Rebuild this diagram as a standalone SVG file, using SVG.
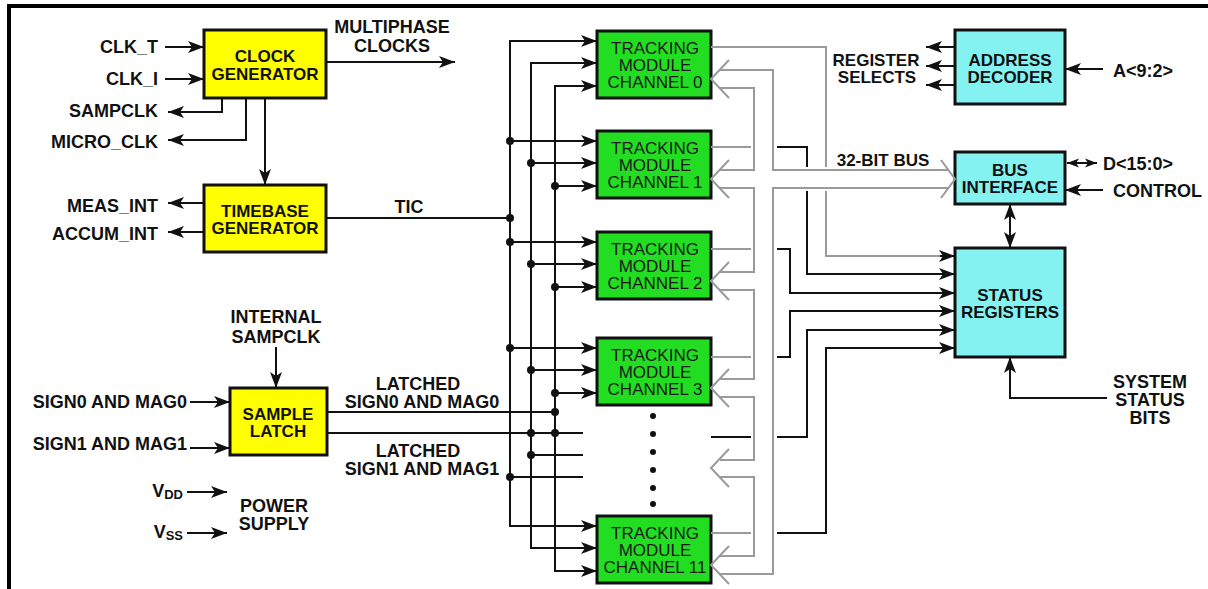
<svg xmlns="http://www.w3.org/2000/svg" width="1208" height="589" viewBox="0 0 1208 589">
<style>
text{font-family:"Liberation Sans",Arial,sans-serif;font-weight:bold;font-size:17px;fill:#111}
#labels text{font-size:18px}
.m{text-anchor:middle}
.e{text-anchor:end}
.trk text{font-weight:normal;fill:#1a1a1a}
.bx{stroke:#111;stroke-width:3}
.yel{fill:#ffff00}
.grn{fill:#22dd22}
.cyn{fill:#85f2f2}
.blk{fill:none;stroke:#111;stroke-width:2}
.gry{fill:none;stroke:#9a9a9a;stroke-width:2}
.a{marker-end:url(#ah)}
.aa{marker-start:url(#ah);marker-end:url(#ah)}
</style>
<defs>
<marker id="ah" markerUnits="userSpaceOnUse" markerWidth="16" markerHeight="12" viewBox="0 0 16 12" refX="16" refY="6" orient="auto-start-reverse"><path d="M0,0 L16,6 L0,12 L4,6 Z" fill="#111"/></marker>
<marker id="as" markerUnits="userSpaceOnUse" markerWidth="12" markerHeight="10" viewBox="0 0 16 12" refX="16" refY="6" orient="auto-start-reverse"><path d="M0,0 L16,6 L0,12 L4,6 Z" fill="#111"/></marker>
</defs>
<rect width="1208" height="589" fill="#fff"/>
<path d="M9 589 V6 H1208" fill="none" stroke="#000" stroke-width="4"/>

<g id="clock-generator"><rect x="204" y="30" width="122" height="68" class="bx yel"/><text class="m" x="265" y="62">CLOCK</text><text class="m" x="265" y="80">GENERATOR</text></g>
<g id="timebase-generator"><rect x="204" y="185" width="122" height="67" class="bx yel"/><text class="m" x="265" y="217">TIMEBASE</text><text class="m" x="265" y="234">GENERATOR</text></g>
<g id="sample-latch"><rect x="230" y="388" width="97" height="67" class="bx yel"/><text class="m" x="278" y="420">SAMPLE</text><text class="m" x="278" y="437">LATCH</text></g>

<g id="channel-0" class="trk"><rect x="597" y="31" width="114" height="67" class="bx grn"/><text class="m" x="655" y="54">TRACKING</text><text class="m" x="655" y="71">MODULE</text><text class="m" x="655" y="88">CHANNEL 0</text></g>
<g id="channel-1" class="trk"><rect x="597" y="131" width="114" height="67" class="bx grn"/><text class="m" x="655" y="154">TRACKING</text><text class="m" x="655" y="171">MODULE</text><text class="m" x="655" y="188">CHANNEL 1</text></g>
<g id="channel-2" class="trk"><rect x="597" y="232" width="114" height="67" class="bx grn"/><text class="m" x="655" y="255">TRACKING</text><text class="m" x="655" y="272">MODULE</text><text class="m" x="655" y="289">CHANNEL 2</text></g>
<g id="channel-3" class="trk"><rect x="597" y="338" width="114" height="67" class="bx grn"/><text class="m" x="655" y="361">TRACKING</text><text class="m" x="655" y="378">MODULE</text><text class="m" x="655" y="395">CHANNEL 3</text></g>
<g id="channel-11" class="trk"><rect x="597" y="516" width="114" height="67" class="bx grn"/><text class="m" x="655" y="539">TRACKING</text><text class="m" x="655" y="556">MODULE</text><text class="m" x="655" y="573">CHANNEL 11</text></g>

<g id="address-decoder"><rect x="955" y="30" width="110" height="74" class="bx cyn"/><text class="m" x="1010" y="66">ADDRESS</text><text class="m" x="1010" y="83">DECODER</text></g>
<g id="bus-interface"><rect x="955" y="152" width="110" height="52" class="bx cyn"/><text class="m" x="1010" y="176">BUS</text><text class="m" x="1010" y="193">INTERFACE</text></g>
<g id="status-registers"><rect x="955" y="248" width="110" height="109" class="bx cyn"/><text class="m" x="1010" y="301">STATUS</text><text class="m" x="1010" y="318">REGISTERS</text></g>

<g id="connectors">
<path class="blk a" d="M165 47 H204"/>
<path class="blk a" d="M165 79 H204"/>
<path class="blk a" d="M222 98 V112 H168"/>
<path class="blk a" d="M246 98 V140 H168"/>
<path class="blk a" d="M265 98 V185"/>
<path class="blk a" d="M326 62 H455"/>
<path class="blk a" d="M204 203 H168"/>
<path class="blk a" d="M204 232 H168"/>
<path class="blk" d="M326 218 H510"/>
<path class="blk a" d="M276 347 V388"/>
<path class="blk a" d="M190 402 H230"/>
<path class="blk a" d="M190 448 H230"/>
<path class="blk a" d="M187 492 H227"/>
<path class="blk a" d="M187 533 H227"/>
<path class="blk" d="M327 412 H555"/>
<path class="blk" d="M327 433 H583"/>
<path class="blk" d="M531 455 H583"/>
<path class="blk" d="M510 477 H583"/>
<path class="blk aa" d="M597 41 H510 V526 H597"/>
<path class="blk aa" d="M597 63 H531 V548 H597"/>
<path class="blk aa" d="M597 86 H555 V571 H597"/>
<path class="blk a" d="M510 141 H597"/><path class="blk a" d="M531 163 H597"/><path class="blk a" d="M555 186 H597"/>
<path class="blk a" d="M510 242 H597"/><path class="blk a" d="M531 264 H597"/><path class="blk a" d="M555 287 H597"/>
<path class="blk a" d="M510 348 H597"/><path class="blk a" d="M531 370 H597"/><path class="blk a" d="M555 393 H597"/>
<g fill="#111">
<circle cx="510" cy="141" r="4"/><circle cx="510" cy="218" r="4"/><circle cx="510" cy="242" r="4"/><circle cx="510" cy="348" r="4"/><circle cx="510" cy="477" r="4"/>
<circle cx="531" cy="163" r="4"/><circle cx="531" cy="264" r="4"/><circle cx="531" cy="370" r="4"/><circle cx="531" cy="433" r="4"/><circle cx="531" cy="455" r="4"/>
<circle cx="555" cy="186" r="4"/><circle cx="555" cy="287" r="4"/><circle cx="555" cy="393" r="4"/><circle cx="555" cy="412" r="4"/><circle cx="555" cy="433" r="4"/>
<circle cx="653" cy="416" r="3"/><circle cx="653" cy="434" r="3"/><circle cx="653" cy="452" r="3"/><circle cx="653" cy="470" r="3"/><circle cx="653" cy="488" r="3"/><circle cx="653" cy="504" r="3"/>
</g>
<path class="gry" d="M720 70 H773 V170 H948"/>
<path class="gry" d="M948 188 H773 V574 H720"/>
<path class="gry" d="M720 88 H754 V170 H720"/>
<path class="gry" d="M720 188 H754 V272 H720"/>
<path class="gry" d="M720 290 H754 V379 H720"/>
<path class="gry" d="M720 397 H754 V460 H720"/>
<path class="gry" d="M720 477 H754 V556 H720"/>
<path class="gry" d="M729 60 L711 79 L729 98"/>
<path class="gry" d="M729 160 L711 179 L729 198"/>
<path class="gry" d="M729 262 L711 281 L729 300"/>
<path class="gry" d="M729 369 L711 388 L729 407"/>
<path class="gry" d="M729 449 L711 468 L729 487"/>
<path class="gry" d="M729 546 L711 565 L729 584"/>
<path class="gry" d="M941 160 L955 179 L941 198"/>
<path class="gry" d="M711 47 H826 V167"/>
<path class="gry" d="M826 191 V256 H945"/>
<path class="blk a" d="M940 256 H955"/>
<path class="gry" d="M711 147 H751"/>
<path class="blk" d="M777 147 H807 V167"/>
<path class="blk a" d="M807 191 V274 H955"/>
<path class="gry" d="M711 249 H751"/>
<path class="blk a" d="M777 249 H790 V293 H955"/>
<path class="gry" d="M711 357 H751"/>
<path class="blk a" d="M777 357 H790 V311 H955"/>
<path class="blk" d="M711 437 H751"/>
<path class="blk a" d="M777 437 H807 V330 H955"/>
<path class="gry" d="M711 533 H751"/>
<path class="blk a" d="M777 533 H826 V348 H955"/>
<path class="blk a" d="M955 47 H926"/>
<path class="blk a" d="M955 66 H926"/>
<path class="blk a" d="M955 85 H926"/>
<path class="blk a" d="M1103 69 H1065"/>
<path class="blk" style="marker-start:url(#as);marker-end:url(#as)" d="M1067 163 H1097"/>
<path class="blk a" d="M1103 190 H1065"/>
<path class="blk aa" d="M1010 204 V248"/>
<path class="blk a" d="M1107 398 H1010 V357"/>
</g>

<g id="labels">
<text class="e" x="158" y="53">CLK_T</text>
<text class="e" x="158" y="85">CLK_I</text>
<text class="e" x="158" y="117">SAMPCLK</text>
<text class="e" x="158" y="148">MICRO_CLK</text>
<text class="m" x="392" y="33">MULTIPHASE</text>
<text class="m" x="392" y="52">CLOCKS</text>
<text class="e" x="158" y="212">MEAS_INT</text>
<text class="e" x="158" y="240">ACCUM_INT</text>
<text class="m" x="409" y="213">TIC</text>
<text class="m" x="276" y="323">INTERNAL</text>
<text class="m" x="276" y="343">SAMPCLK</text>
<text class="e" x="187" y="408">SIGN0 AND MAG0</text>
<text class="e" x="187" y="450">SIGN1 AND MAG1</text>
<text class="m" x="418" y="390">LATCHED</text>
<text class="m" x="422" y="408">SIGN0 AND MAG0</text>
<text class="m" x="418" y="457">LATCHED</text>
<text class="m" x="422" y="475">SIGN1 AND MAG1</text>
<text class="e" x="183" y="497">V<tspan font-size="13" dy="2">DD</tspan></text>
<text class="e" x="183" y="538">V<tspan font-size="13" dy="2">SS</tspan></text>
<text class="m" x="274" y="512">POWER</text>
<text class="m" x="274" y="530">SUPPLY</text>
<text class="m" x="876" y="66" style="font-size:17px">REGISTER</text>
<text class="m" x="877" y="83" style="font-size:17px">SELECTS</text>
<text x="1113" y="77">A&lt;9:2&gt;</text>
<text x="1103" y="170">D&lt;15:0&gt;</text>
<text x="1113" y="197">CONTROL</text>
<text class="m" x="883" y="166" style="font-size:17px">32-BIT BUS</text>
<text class="m" x="1150" y="388">SYSTEM</text>
<text class="m" x="1150" y="406">STATUS</text>
<text class="m" x="1150" y="424">BITS</text>
</g>
</svg>
